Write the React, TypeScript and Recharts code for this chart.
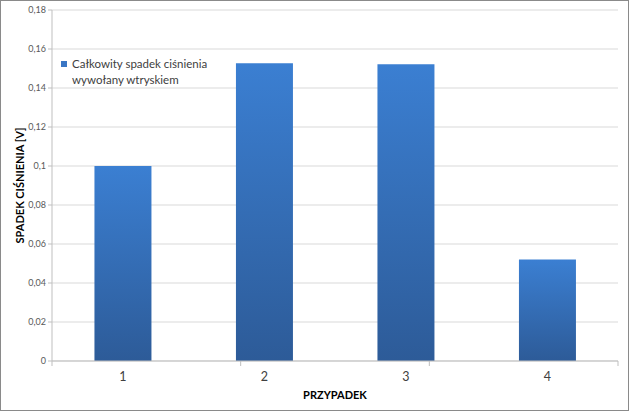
import React from "react";
import { BarChart, Bar, XAxis, YAxis, CartesianGrid, Legend } from "recharts";

const categories = ["1", "2", "3", "4"];
const values = [0.1, 0.1527, 0.1522, 0.0521];
const yTicks = [0, 0.02, 0.04, 0.06, 0.08, 0.1, 0.12, 0.14, 0.16, 0.18];
const boundaryTicks = [0, 1, 2, 3, 4];
const seriesName = "Całkowity spadek ciśnienia wywołany wtryskiem";
const legendLines = ["Całkowity spadek ciśnienia", "wywołany wtryskiem"];
const xTitle = "PRZYPADEK";
const yTitle = "SPADEK CIŚNIENIA [V]";

const data = categories.map((c, i) => ({ name: c, value: values[i] }));

const FONT = "Lato, 'Open Sans', 'DejaVu Sans', sans-serif";

const fmt = (v: number) => (v === 0 ? "0" : String(Number(v.toFixed(2))).replace(".", ","));

const LegendContent = () => (
  <div style={{ display: "flex", alignItems: "flex-start", fontFamily: FONT, fontSize: 11.5, color: "#404040", lineHeight: "16px" }}>
    <div style={{ width: 6, height: 6, background: "#3a76c4", marginTop: 5, marginRight: 5 }} />
    <div>
      {legendLines.map((l) => (
        <div key={l}>{l}</div>
      ))}
    </div>
  </div>
);

const YLabel = (props: any) => {
  const vb = props.viewBox || {};
  const cx = 19;
  const cy = vb.y + vb.height / 2;
  return (
    <text
      x={cx}
      y={cy}
      transform={`rotate(-90, ${cx}, ${cy})`}
      textAnchor="middle"
      dominantBaseline="central"
      fontFamily={FONT}
      fontWeight={700}
      fontSize={11}
      fill="#000"
    >
      {yTitle}
    </text>
  );
};

const EmptyTick = () => <g />;

export default function App() {
  return (
    <div
      style={{
        position: "fixed",
        left: 0,
        top: 0,
        width: 629,
        height: 411,
        background: "#fff",
        border: "1px solid #8a8a8a",
        boxSizing: "border-box",
      }}
    >
      <div style={{ position: "absolute", left: -1, top: -1 }}>
        <BarChart
          width={629}
          height={411}
          data={data}
          margin={{ top: 10, right: 11, left: 0, bottom: 0 }}
          barCategoryGap="30%"
        >
          <defs>
            <linearGradient id="barGrad" x1="0" y1="0" x2="0" y2="1">
              <stop offset="0%" stopColor="#3b7fd2" />
              <stop offset="100%" stopColor="#2d5b98" />
            </linearGradient>
          </defs>
          <CartesianGrid vertical={false} stroke="#d9d9d9" strokeWidth={1} />
          <XAxis
            dataKey="name"
            height={50}
            axisLine={{ stroke: "#bfbfbf" }}
            tickLine={false}
            tick={{ fill: "#404040", fontSize: 12.5, fontFamily: FONT }}
            tickMargin={5}
            label={{
              value: xTitle,
              position: "insideBottom",
              offset: 12,
              fill: "#000",
              fontSize: 11,
              fontWeight: 700,
              fontFamily: FONT,
            }}
          />
          <XAxis
            xAxisId="bound"
            type="number"
            domain={[0, 4]}
            ticks={boundaryTicks}
            interval={0}
            height={1}
            mirror
            tick={<EmptyTick />}
            axisLine={false}
            tickLine={{ stroke: "#bfbfbf" }}
            tickSize={-5}
          />
          <YAxis
            width={52}
            domain={[0, 0.18]}
            ticks={yTicks}
            interval={0}
            tickFormatter={fmt}
            axisLine={{ stroke: "#bfbfbf" }}
            tickLine={{ stroke: "#bfbfbf" }}
            tickSize={4}
            tick={{ fill: "#595959", fontSize: 9, fontFamily: FONT }}
            label={<YLabel />}
          />
          <Legend
            content={<LegendContent />}
            layout="vertical"
            verticalAlign="middle"
            align="center"
            wrapperStyle={{ position: "absolute", left: 61, top: 56, width: "auto" }}
          />
          <Bar
            dataKey="value"
            name={seriesName}
            fill="url(#barGrad)"
            isAnimationActive={false}
          />
        </BarChart>
      </div>
    </div>
  );
}
